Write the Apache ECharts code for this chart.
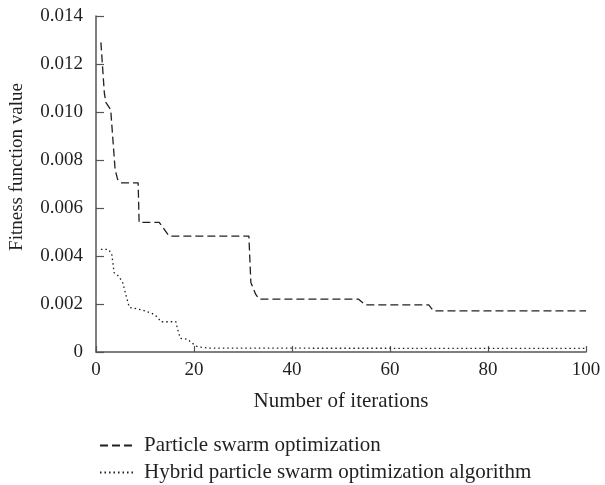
<!DOCTYPE html>
<html>
<head>
<meta charset="utf-8">
<script src="https://cdn.jsdelivr.net/npm/echarts@6/dist/echarts.min.js"></script>
<style>html,body{margin:0;padding:0;background:#fff}#c{width:605px;height:485px}</style>
</head>
<body>
<div id="c"></div>
<script>
const seriesNames = ['Particle swarm optimization', 'Hybrid particle swarm optimization algorithm'];
const xTicks = [0, 20, 40, 60, 80, 100];
const yTicks = [0, 0.002, 0.004, 0.006, 0.008, 0.010, 0.012, 0.014];

const psoIter = [1, 1.7, 2, 3, 3.9, 4.4, 5.1, 8.6, 8.8, 12.9, 14.9, 31.2, 31.6, 32.6, 33.3, 53.6, 55, 67.9, 68.9, 100];
const psoValue = [0.0129, 0.0108, 0.0104, 0.0101, 0.0076, 0.0072, 0.00705, 0.00705, 0.0054, 0.0054, 0.00483, 0.00483, 0.0029, 0.0024, 0.0022, 0.0022, 0.00196, 0.00196, 0.00171, 0.00171];

const hpsoIter = [1, 2.5, 3.2, 3.7, 4.4, 5.4, 6.1, 6.8, 9.5, 11.5, 12.6, 13.2, 16.3, 16.6, 17.2, 18.7, 19.7, 20.7, 23, 100];
const hpsoValue = [0.00428, 0.00428, 0.0041, 0.0033, 0.0032, 0.00293, 0.00238, 0.00186, 0.00175, 0.0016, 0.00145, 0.00126, 0.00126, 0.00099, 0.00057, 0.00053, 0.00036, 0.00022, 0.00016, 0.00015];

const pair = (xs, ys) => xs.map((x, i) => [x, ys[i]]);
const FONT = 'Liberation Serif';
const TXT = '#231f20';

const legendBase = {
  orient: 'vertical', left: 94, itemWidth: 36, itemHeight: 14, itemGap: 10,
  itemStyle: {opacity: 0},
  textStyle: {fontFamily: FONT, fontSize: 21, color: TXT, padding: [0, 0, 0, 3]}
};

const chart = echarts.init(document.getElementById('c'), null, {renderer: 'canvas'});
chart.setOption({
  animation: false,
  backgroundColor: '#fff',
  grid: {left: 95, right: 19, top: 16, bottom: 133, containLabel: false},
  xAxis: {
    type: 'value', min: xTicks[0], max: xTicks[xTicks.length - 1], interval: 20,
    name: 'Number of iterations', nameLocation: 'middle', nameGap: 39,
    nameTextStyle: {fontFamily: FONT, fontSize: 21, color: TXT},
    axisLine: {lineStyle: {color: '#555', width: 1.5}},
    axisTick: {inside: true, length: 6, lineStyle: {color: '#555', width: 1.2}},
    axisLabel: {fontFamily: FONT, fontSize: 19, color: TXT, margin: 9},
    splitLine: {show: false}
  },
  yAxis: {
    type: 'value', min: yTicks[0], max: yTicks[yTicks.length - 1], interval: 0.002,
    name: 'Fitness function value', nameLocation: 'middle', nameGap: 69,
    nameTextStyle: {fontFamily: FONT, fontSize: 19, color: TXT, padding: [0, 0, 0, 34]},
    axisLine: {show: true, lineStyle: {color: '#555', width: 1.5}},
    axisTick: {show: true, inside: true, length: 8, lineStyle: {color: '#555', width: 1.2}},
    axisLabel: {fontFamily: FONT, fontSize: 19, color: TXT, margin: 13,
      formatter: v => v === 0 ? '0' : v.toFixed(3)},
    splitLine: {show: false}
  },
  legend: [
    Object.assign({}, legendBase, {top: 430, data: [seriesNames[0]]}),
    Object.assign({}, legendBase, {top: 457, data: [seriesNames[1]]})
  ],
  series: [
    {
      name: seriesNames[0], type: 'line', data: pair(psoIter, psoValue),
      symbol: 'none', lineStyle: {color: '#231f20', width: 1.3, type: [8, 4]},
      itemStyle: {color: '#231f20'}
    },
    {
      name: seriesNames[1], type: 'line', data: pair(hpsoIter, hpsoValue),
      symbol: 'none', lineStyle: {color: '#231f20', width: 1.3, type: [1.5, 3]},
      itemStyle: {color: '#231f20'}
    }
  ]
});
</script>
</body>
</html>
